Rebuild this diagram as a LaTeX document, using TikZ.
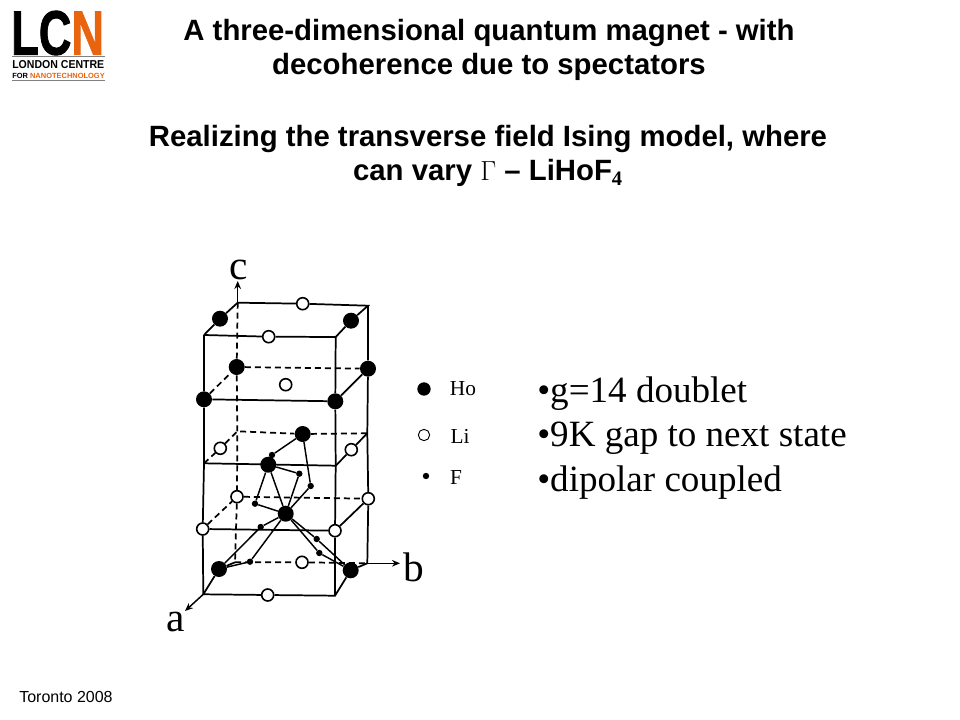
\documentclass[tikz,border=0pt]{standalone}
\usepackage{fontspec}
\setmainfont{Liberation Serif}
\newfontfamily\arialfont{Liberation Sans}
\newfontfamily\logofont[FakeBold=1.6]{Liberation Sans Bold}
\definecolor{lcnorange}{HTML}{E8640F}
\tikzset{
  frame/.style={line width=1.3pt},
  back/.style={line width=1.3pt,dash pattern=on 4.5pt off 3pt},
  bond/.style={line width=1.1pt},
  axis/.style={line width=1.1pt,-{Stealth[length=6pt,width=5pt]}},
  ho/.style={circle,fill=black,inner sep=0pt,minimum size=12pt},
  li/.style={circle,draw=black,fill=white,line width=1.2pt,inner sep=0pt,minimum size=9pt},
  fl/.style={circle,fill=black,inner sep=0pt,minimum size=4.8pt},
  title/.style={font=\arialfont\bfseries\fontsize{22}{26}\selectfont,align=center},
  bullet/.style={anchor=west,inner sep=0pt,font=\fontsize{27.8}{32}\selectfont},
  legend/.style={font=\fontsize{16}{18}\selectfont},
  axlabel/.style={font=\fontsize{31}{34}\selectfont}
}
\usetikzlibrary{arrows.meta}
\begin{document}
\begin{tikzpicture}[x=0.75pt,y=-0.75pt]
\useasboundingbox (0,0) rectangle (960,720);

% Logo
\node[anchor=south west,inner sep=0pt] (logoA) at (11,55.5) {\scalebox{0.72}[1]{\logofont\fontsize{47}{47}\selectfont LC\textcolor{lcnorange}{N}}};
\node[anchor=west,inner sep=0pt] (logoB) at (12,64.2) {\scalebox{0.92}[1]{\arialfont\bfseries\fontsize{8.6}{8.6}\selectfont LONDON CENTRE}};
\node[anchor=west,inner sep=0pt] (logoC) at (12,75.8) {\arialfont\bfseries\fontsize{5.6}{5.6}\selectfont FOR \textcolor{lcnorange}{NANOTECHNOLOGY}};
\coordinate (logoL1) at (12,56.5);
\coordinate (logoR1) at (105,56.5);
\coordinate (logoL2) at (12,80);
\coordinate (logoR2) at (105,80);
\draw[line width=0.4pt,gray] (logoL1) -- (logoR1);
\draw[line width=0.4pt,gray] (logoL2) -- (logoR2);

% Titles
\node[title] (titleA) at (489,50) {A three-dimensional quantum magnet - with\\decoherence due to spectators};
\node[title] (titleB) at (488,156) {Realizing the transverse field Ising model, where\\can vary {\rmfamily\mdseries $\Gamma$} – LiHoF$_{\mathbf{4}}$};

% Corners, top to bottom
\coordinate (A1) at (204,335);
\coordinate (B1) at (335.7,337);
\coordinate (C1) at (368,305.7);
\coordinate (D1) at (237.7,302.7);
\coordinate (A3) at (204,463.3);
\coordinate (B3) at (335.7,465.7);
\coordinate (C3) at (367.3,433.3);
\coordinate (D3) at (237.3,431.3);
\coordinate (A5) at (203.3,594.3);
\coordinate (B5) at (335,595.7);
\coordinate (C5) at (367.3,563.3);
\coordinate (D5) at (235,562.3);

% Holmium
\node[ho] (H1) at (220,318.7) {};
\node[ho] (H2) at (351,320.7) {};
\node[ho] (H3) at (236.7,367) {};
\node[ho] (H4) at (368,368.7) {};
\node[ho] (H5) at (204,399.3) {};
\node[ho] (H6) at (335.3,401.3) {};
\node[ho] (H7) at (302.7,434) {};
\node[ho] (H8) at (268.3,464.7) {};
\node[ho] (H9) at (285.7,513.7) {};
\node[ho] (H10) at (219,569) {};
\node[ho] (H11) at (350.7,570.3) {};

% Lithium
\node[li] (L1) at (302.7,303.7) {};
\node[li] (L2) at (268.7,336.7) {};
\node[li] (L3) at (285.7,384.7) {};
\node[li] (L4) at (220.3,448.3) {};
\node[li] (L5) at (351.3,449.7) {};
\node[li] (L6) at (237,496.7) {};
\node[li] (L7) at (368.3,498.7) {};
\node[li] (L8) at (202.7,529) {};
\node[li] (L9) at (335,530.7) {};
\node[li] (L10) at (302,562.3) {};
\node[li] (L11) at (267.7,595) {};

% Fluorine
\node[fl] (F1) at (272,455) {};
\node[fl] (F2) at (299.3,473.7) {};
\node[fl] (F3) at (310.7,486) {};
\node[fl] (F4) at (255,503.7) {};
\node[fl] (F5) at (260.7,527) {};
\node[fl] (F6) at (316.7,539) {};
\node[fl] (F7) at (319.3,553) {};
\node[fl] (F8) at (250,561.7) {};

% Cell edges
\draw[frame] (A1) -- (L2) -- (B1) -- (H2) -- (C1) -- (L1) -- (D1) -- (H1) -- (A1);
\draw[frame] (A1) -- (H5) -- (A3) -- (L8) -- (A5) -- (L11) -- (B5) -- (H11) -- (C5);
\draw[frame] (B1) -- (H6) -- (B3) -- (L9) -- (B5);
\draw[frame] (C1) -- (H4) -- (C3) -- (L7) -- (C5);
\draw[frame] (H5) -- (H6) -- (H4);
\draw[frame] (A3) -- (B3) -- (L5) -- (C3);
\draw[frame] (L8) -- (L9) -- (L7);
\draw[frame] (A5) -- (H10) -- (D5);
\draw[back] (D1) -- (H3) -- (D3) -- (L6) -- (D5);
\draw[back] (H5) -- (H3) -- (H4);
\draw[back] (A3) -- (L4) -- (D3) -- (H7) -- (C3);
\draw[back] (L8) -- (L6) -- (L7);
\draw[back] (D5) -- (L10) -- (C5);

% Bonds
\draw[bond] (H7) -- (F1) -- (H8);
\draw[bond] (H7) -- (F3) -- (H9);
\draw[bond] (H8) -- (F2) -- (H9);
\draw[bond] (H8) -- (F4) -- (H9);
\draw[bond] (H8) -- (H9);
\draw[bond] (H9) -- (F5) -- (H10);
\draw[bond] (H9) -- (F8) -- (H10);
\draw[bond] (H9) -- (F6) -- (H11);
\draw[bond] (H9) -- (F7) -- (H11);

% Axes
\coordinate (cend) at (237.7,281);
\coordinate (bend) at (400,563.3);
\coordinate (aend) at (185,611);
\draw[axis] (D1) -- (cend);
\draw[axis] (C5) -- (bend);
\draw[axis] (A5) -- (aend);
\node[axlabel] (clabel) at (239,270) {c};
\node[axlabel] (blabel) at (414,567) {b};
\node[axlabel] (alabel) at (176,622) {a};

% Legend
\node[ho,minimum size=10pt] (keyH) at (424,389) {};
\node[li,minimum size=8.5pt,line width=0.7pt] (keyL) at (424,435) {};
\node[fl,minimum size=4.8pt] (keyF) at (426,476) {};
\node[legend] (textH) at (463,389) {Ho};
\node[legend] (textL) at (460,436) {Li};
\node[legend] (textF) at (456,478) {F};

% Properties
\node[bullet] (propA) at (537,394) {•g=14 doublet};
\node[bullet] (propB) at (537,438) {•9K gap to next state};
\node[bullet] (propC) at (537,483) {•dipolar coupled};

\node[anchor=west,inner sep=0pt,font=\arialfont\fontsize{12}{14}\selectfont] (place) at (19,697) {Toronto 2008};
\end{tikzpicture}
\end{document}
